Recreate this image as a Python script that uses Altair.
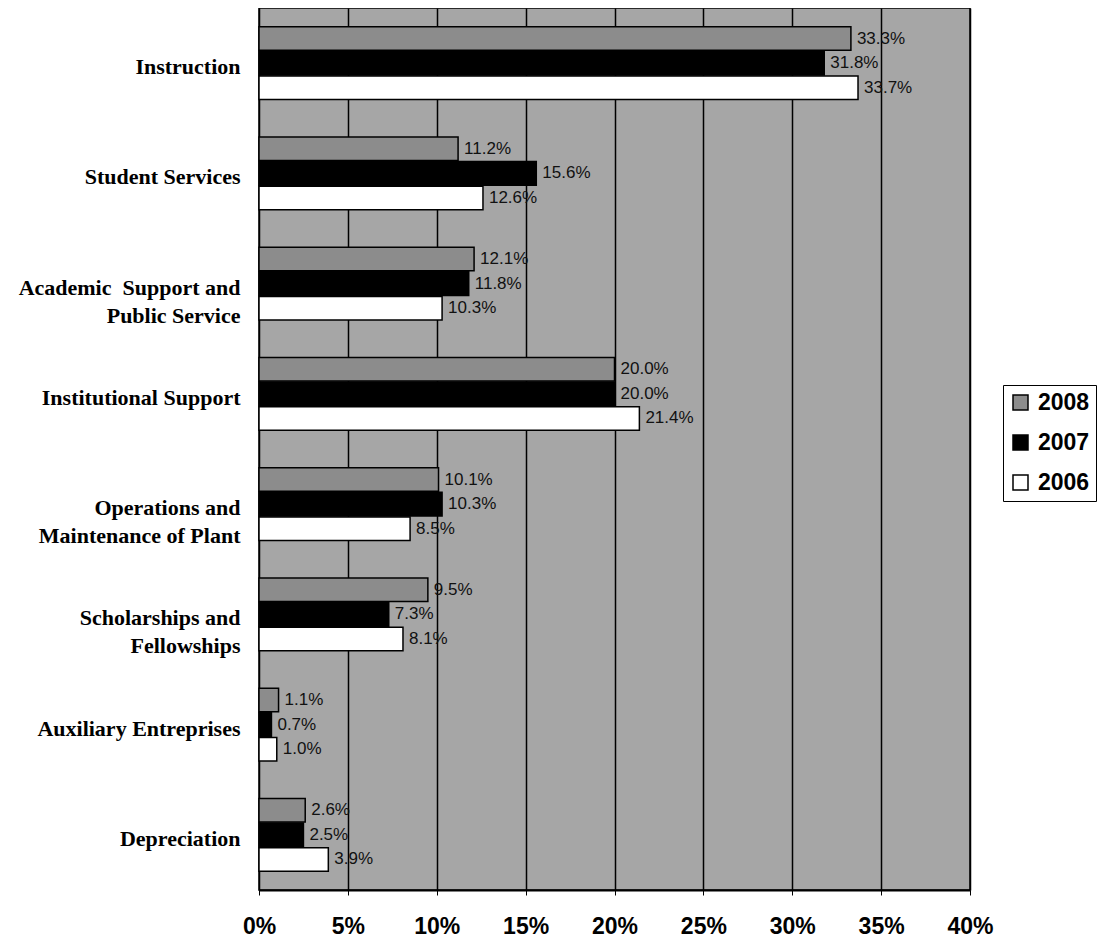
import altair as alt
import pandas as pd

NB = "\u00a0"
categories = ["Instruction", "Student Services",
              "Academic" + NB + " Support and|Public Service" + NB * 8,
              "Institutional Support",
              "Operations and" + NB * 5 + "|Maintenance of Plant",
              "Scholarships and|Fellowships" + NB * 5,
              "Auxiliary Entreprises", "Depreciation"]
years = ["2008", "2007", "2006"]
v2008 = [33.3, 11.2, 12.1, 20.0, 10.1, 9.5, 1.1, 2.6]
v2007 = [31.8, 15.6, 11.8, 20.0, 10.3, 7.3, 0.7, 2.5]
v2006 = [33.7, 12.6, 10.3, 21.4, 8.5, 8.1, 1.0, 3.9]
x_ticks = [0, 5, 10, 15, 20, 25, 30, 35, 40]

rows = []
for y, vals in zip(years, [v2008, v2007, v2006]):
    for c, v in zip(categories, vals):
        rows.append({"category": c, "year": y, "value": v})
df = pd.DataFrame(rows)

y_enc = alt.Y("category:N", sort=categories, title=None,
              scale=alt.Scale(paddingInner=0.34, paddingOuter=0.17),
              axis=alt.Axis(labelExpr="split(datum.label, '|')", labelFont="Liberation Serif",
                            labelFontWeight="bold", labelFontSize=22, labelColor="black",
                            labelLineHeight=28, labelPadding=19, labelOffset=4, ticks=False,
                            domain=True, domainColor="black", minExtent=251, maxExtent=251,
                            labelLimit=250))
x_enc = alt.X("value:Q", title=None, scale=alt.Scale(domain=[0, 40], nice=False),
              axis=alt.Axis(values=x_ticks, labelExpr="datum.value + '%'", labelFlush=False,
                            labelFont="Liberation Sans", labelFontWeight="bold", labelFontSize=23,
                            labelColor="black", labelPadding=20, grid=True, gridColor="black",
                            gridWidth=1.5, domainColor="black", domainWidth=2,
                            tickColor="black", tickSize=5))
yoff = alt.YOffset("year:N", sort=years, scale=alt.Scale(paddingInner=0.04))

bars = alt.Chart(df).mark_bar(stroke="black", strokeWidth=1.5).encode(
    y=y_enc, x=x_enc, yOffset=yoff,
    color=alt.Color("year:N", sort=years,
                    scale=alt.Scale(domain=years, range=["#8c8c8c", "#000000", "#ffffff"]),
                    legend=alt.Legend(title=None, orient="none", legendX=744, legendY=377,
                                      symbolType="square", symbolSize=225, symbolStrokeColor="black",
                                      symbolStrokeWidth=1.5, labelFont="Liberation Sans",
                                      labelFontWeight="bold", labelFontSize=23, labelColor="black",
                                      labelOffset=6, strokeColor="black", padding=6, rowPadding=16,
                                      fillColor="white")),
)

labels = alt.Chart(df).transform_calculate(
    label="format(datum.value, '.1f') + '%'"
).mark_text(align="left", baseline="middle", dx=6, font="Liberation Sans",
            fontSize=17, color="#111111").encode(
    y=alt.Y("category:N", sort=categories), x="value:Q", yOffset=yoff, text="label:N")

chart = alt.layer(bars, labels).properties(
    width=711, height=882, padding=0, background="white"
).configure_view(fill="#a6a6a6", stroke="black", strokeWidth=1.5)

chart.save("out.html", embed_options={"renderer": "svg", "actions": False})
